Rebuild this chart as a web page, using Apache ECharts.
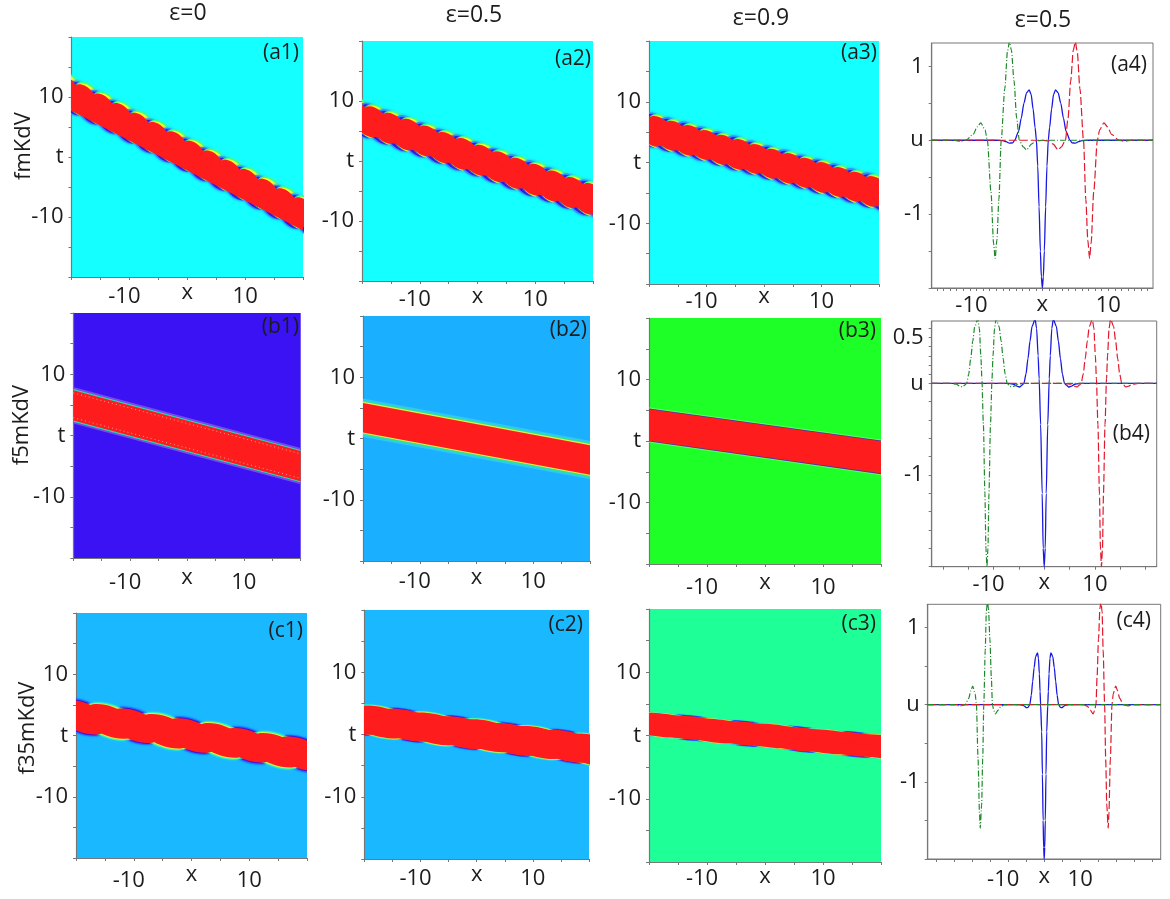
<!DOCTYPE html>
<html><head><meta charset="utf-8">
<style>html,body{margin:0;padding:0;background:#fff}#c{width:1170px;height:899px}</style>
<script src="https://cdn.jsdelivr.net/npm/echarts@6/dist/echarts.min.js"></script>
</head><body><div id="c"></div>
<script>
// ---------- data ----------
const columnTitles = ['ε=0','ε=0.5','ε=0.9','ε=0.5'];
const rowTitles = ['fmKdV','f5mKdV','f35mKdV'];
const a1LobeX = [-24,-20.85,-17.7,-14.55,-11.4,-8.25,-5.1,-1.95,1.2,4.35,7.5,10.65,13.8,16.95,20.1,23.25];
const a1LobeT = [12,10.4,8.85,7.3,5.7,4.1,2.55,1,-0.6,-2.2,-3.75,-5.3,-6.9,-8.5,-10,-11.6];
const a2LobeX = [-24,-20.85,-17.7,-14.55,-11.4,-8.25,-5.1,-1.95,1.2,4.35,7.5,10.65,13.8,16.95,20.1,23.25];
const a2LobeT = [8.2,7.1,6,4.9,3.9,2.8,1.7,0.7,-0.4,-1.5,-2.6,-3.6,-4.7,-5.8,-6.8,-7.9];
const a3LobeX = [-24,-21.1,-18.2,-15.3,-12.4,-9.5,-6.6,-3.7,-0.8,2.1,5,7.9,10.8,13.7,16.6,19.5,22.4];
const a3LobeT = [6.3,5.5,4.8,4,3.3,2.5,1.7,1,0.2,-0.6,-1.3,-2.1,-2.8,-3.6,-4.4,-5.1,-5.9];
const c1BlueX = [-19,-9.8,0,9.8,19];
const c1BlueT = [3,1.6,0,-1.6,-3];
const c1GreenX = [-24,-14.1,-4.6,5.2,14.7,24];
const c1GreenT = [3.8,2.3,0.7,-0.8,-2.4,-3.8];
const c2BlueX = [-21.9,-12.4,-2.6,6.6,16.2,25.7];
const c2BlueT = [2.6,1.5,0.3,-0.8,-1.9,-3.1];
const c2GreenX = [-17,-7.5,2,11.2,20.7];
const c2GreenT = [2,0.9,-0.2,-1.3,-2.5];
const c3BlueX = [-22.5,-12.9,-3.3,6.3,15.5];
const c3BlueT = [2,1.2,0.3,-0.6,-1.4];
const c3GreenX = [-17.6,-8.1,1.5,11,20.5];
const c3GreenT = [1.6,0.7,-0.1,-1,-1.8];
// bands: x at left, top t, bottom t, x at right, top t, bottom t
const a1Core = [-20,12.1,7.7,20,-7.8,-12.2];
const a2Core = [-20,8.8,4.8,20,-4.7,-8.7];
const a3Core = [-20,7.1,3.3,20,-3.4,-7.2];
const b1Band = [-20,7.4,2.45,20,-2.55,-7.45];
const b2Band = [-20,5.8,1,20,-1.1,-5.9];
const b3Band = [-20,5.15,0.05,20,-0.05,-5.25];
const c1Core = [-20,5.2,1.2,20,-1.2,-5.2];
const c2Core = [-20,4.4,0.4,20,-0.4,-4.4];
const c3Core = [-20,3.2,0.2,20,-0.25,-3.25];

const a4BlueX = [-16.8,-7,-6,-5.5,-5,-4.5,-4.2,-3.6,-3.2,-2.8,-2.4,-2,-1.7,-1.4,-1.1,-0.9,-0.7,-0.5,-0.3,-0.15,0,0.15,0.3,0.5,0.7,0.9,1.1,1.4,1.7,2,2.4,2.8,3.2,3.6,4.2,4.5,5,5.5,6,7,16.8];
const a4BlueU = [0,0,-0.005,-0.02,-0.04,-0.035,0,0.12,0.3,0.5,0.64,0.68,0.62,0.42,0.17,0,-0.35,-0.9,-1.5,-1.85,-2,-1.85,-1.5,-0.9,-0.35,0,0.17,0.42,0.62,0.68,0.64,0.5,0.3,0.12,0,-0.035,-0.04,-0.02,-0.005,0,0];
const a4RedX = [-16.8,0,1,1.6,2.4,2.9,3.5,3.9,4.3,4.7,5,5.3,5.7,6.25,6.6,6.9,7.17,7.4,7.8,8.35,8.7,9.35,9.9,10.5,11.6,12.5,13.5,16.8];
const a4RedU = [0,0,-0.01,-0.05,-0.13,-0.09,0,0.3,0.8,1.22,1.33,1.2,0.7,0,-0.8,-1.35,-1.6,-1.4,-0.7,0,0.14,0.235,0.18,0.08,0,-0.015,0,0];
const a4GreenX = [-16.8,-13.5,-12.5,-11.6,-10.5,-9.9,-9.35,-8.7,-8.35,-7.8,-7.4,-7.17,-6.9,-6.6,-6.25,-5.7,-5.3,-5,-4.7,-4.3,-3.9,-3.5,-2.9,-2.4,-1.6,-1,0,16.8];
const a4GreenU = [0,0,-0.015,0,0.08,0.18,0.235,0.14,0,-0.7,-1.4,-1.6,-1.35,-0.8,0,0.7,1.2,1.33,1.22,0.8,0.3,0,-0.09,-0.13,-0.05,-0.01,0,0];

const b4BlueX = [-22.2,-7,-6,-5.4,-4.8,-4.4,-4,-3.6,-3.2,-2.8,-2.4,-1.8,-1.5,-1.2,-1,-0.7,-0.4,-0.2,0,0.2,0.4,0.7,1,1.2,1.5,1.8,2.4,2.8,3.2,3.6,4,4.4,4.8,5.4,6,7,22.2];
const b4BlueU = [0,0,-0.01,-0.03,-0.04,-0.02,0,0.1,0.27,0.46,0.62,0.7,0.6,0.3,0.05,-0.45,-1.2,-1.8,-2,-1.8,-1.2,-0.45,0.05,0.3,0.6,0.7,0.62,0.46,0.27,0.1,0,-0.02,-0.04,-0.03,-0.01,0,0];
const b4RedX = [-22.2,4,5.3,5.9,6.5,6.9,7.3,7.7,8.1,8.5,8.9,9.5,9.8,10.1,10.3,10.6,10.9,11.1,11.3,11.5,11.7,12,12.3,12.5,12.8,13.1,13.7,14.1,14.5,14.9,15.3,15.7,16.1,16.7,17.3,18.6,22.2];
const b4RedU = [0,0,-0.01,-0.03,-0.04,-0.02,0,0.1,0.27,0.46,0.62,0.7,0.6,0.3,0.05,-0.45,-1.2,-1.8,-2,-1.8,-1.2,-0.45,0.05,0.3,0.6,0.7,0.62,0.46,0.27,0.1,0,-0.02,-0.04,-0.03,-0.01,0,0];
const b4GreenX = [-22.2,-18.6,-17.3,-16.7,-16.1,-15.7,-15.3,-14.9,-14.5,-14.1,-13.7,-13.1,-12.8,-12.5,-12.3,-12,-11.7,-11.5,-11.3,-11.1,-10.9,-10.6,-10.3,-10.1,-9.8,-9.5,-8.9,-8.5,-8.1,-7.7,-7.3,-6.9,-6.5,-5.9,-5.3,-4,22.2];
const b4GreenU = [0,0,-0.01,-0.03,-0.04,-0.02,0,0.1,0.27,0.46,0.62,0.7,0.6,0.3,0.05,-0.45,-1.2,-1.8,-2,-1.8,-1.2,-0.45,0.05,0.3,0.6,0.7,0.62,0.46,0.27,0.1,0,-0.02,-0.04,-0.03,-0.01,0,0];

const c4BlueX = [-32.4,-7,-6,-5.5,-4.9,-4.5,-4,-3.6,-3.2,-2.8,-2.4,-1.85,-1.6,-1.35,-1.15,-1,-0.7,-0.5,-0.3,-0.15,0,0.15,0.3,0.5,0.7,1,1.15,1.35,1.6,1.85,2.4,2.8,3.2,3.6,4,4.5,4.9,5.5,6,7,32.4];
const c4BlueU = [0,0,-0.005,-0.02,-0.04,-0.035,0,0.12,0.3,0.48,0.62,0.67,0.6,0.4,0.17,0,-0.35,-0.9,-1.5,-1.85,-2,-1.85,-1.5,-0.9,-0.35,0,0.17,0.4,0.6,0.67,0.62,0.48,0.3,0.12,0,-0.035,-0.04,-0.02,-0.005,0,0];
const c4RedX = [-32.4,11,12,12.8,13.6,14,14.4,14.7,15.1,15.5,15.8,16.1,16.4,16.8,17.1,17.4,17.8,18,18.4,18.85,19.2,19.9,20.4,21,22,23.3,25,32.4];
const c4RedU = [0,0,-0.02,-0.07,-0.12,-0.08,0,0.35,0.85,1.25,1.33,1.2,0.7,0,-0.7,-1.3,-1.6,-1.4,-0.7,0,0.14,0.24,0.18,0.08,0,-0.015,0,0];
const c4GreenX = [-32.4,-25,-23.3,-22,-21,-20.4,-19.9,-19.2,-18.85,-18.4,-18,-17.8,-17.4,-17.1,-16.8,-16.4,-16.1,-15.8,-15.5,-15.1,-14.7,-14.4,-14,-13.6,-12.8,-12,-11,32.4];
const c4GreenU = [0,0,-0.015,0,0.08,0.18,0.24,0.14,0,-0.7,-1.4,-1.6,-1.3,-0.7,0,0.7,1.2,1.33,1.25,0.85,0.35,0,-0.08,-0.12,-0.07,-0.02,0,0];

const heatTicks = [-20,-15,-10,-5,0,5,10,15,20];
const heatLabels = [-10,0,10];
const a4XTicks = [-16,-15,-14,-13,-12,-11,-10,-9,-8,-7,-6,-5,-4,-3,-2,-1,0,1,2,3,4,5,6,7,8,9,10,11,12,13,14,15,16];
const b4XTicks = [-20,-15,-10,-5,0,5,10,15,20];
const c4XTicks = [-30,-25,-20,-15,-10,-5,0,5,10,15,20,25,30];
const a4YTicks = [-2,-1.5,-1,-0.5,0,0.5,1];
const b4YTicks = [-2,-1.8,-1.6,-1.4,-1.2,-1,-0.8,-0.6,-0.4,-0.2,0,0.1,0.2,0.3,0.4,0.5,0.6];
const c4YTicks = [-2,-1.5,-1,-0.5,0,0.5,1];

// ---------- layout and style ----------
const FONT = '"Open Sans","Noto Sans",sans-serif';
const INK = '#1c1c1c';
const AXIS = '#777';
const zip = (a,b)=>a.map((v,i)=>[v,b[i]]);
const RED = '#ff1c1c';
const LABEL = 22;

function ellipseSeries(g, pts, shape, layers, offX, offT){
  return {type:'custom', xAxisIndex:g, yAxisIndex:g, clip:true, silent:true, data:pts,
    renderItem(params, api){
      const p = api.coord([api.value(0)+offX, api.value(1)+offT]);
      return {type:'group', children: layers.map(l=>({
        type:'ellipse', x:p[0]+(l.dx||0), y:p[1]+(l.dy||0), rotation:-shape.theta*Math.PI/180,
        shape:{cx:0,cy:0,rx:shape.a+(l.da||0),ry:shape.b+(l.db||0)},
        style:{fill:l.fill, shadowBlur:l.blur||0, shadowColor:l.blur?l.fill:'transparent'}
      }))};
    }};
}
function bandSeries(g, band, grow, fill){
  return {type:'custom', xAxisIndex:g, yAxisIndex:g, clip:true, silent:true, data:[band],
    renderItem(params, api){
      const v=i=>api.value(i);
      return {type:'polygon', shape:{points:[
        api.coord([v(0),v(1)+grow]), api.coord([v(3),v(4)+grow]),
        api.coord([v(3),v(5)-grow]), api.coord([v(0),v(2)-grow])]}, style:{fill}};
    }};
}
function dottedEdge(g, band, inset, color){
  return [
    {type:'line',xAxisIndex:g,yAxisIndex:g,showSymbol:false,silent:true,z:3,data:[[band[0],band[1]-inset],[band[3],band[4]-inset]],lineStyle:{color,width:1,type:[1,3]}},
    {type:'line',xAxisIndex:g,yAxisIndex:g,showSymbol:false,silent:true,z:3,data:[[band[0],band[2]+inset],[band[3],band[5]+inset]],lineStyle:{color,width:1,type:[1,3]}}
  ];
}

const rowALayers = [
  {dx:-4,dy:-1,da:2.5,db:2.6,fill:'#2a8cff',blur:3},
  {dx:-3,dy:-0.5,da:1.5,db:1.5,fill:'#3a10e0'},
  {dx:3,dy:0,da:2,db:2.2,fill:'#40ff90',blur:2},
  {dx:2.5,dy:0.5,da:1,db:1.2,fill:'#f4ff20'}
];
const redLayer = [{fill:RED}];
const halo = (k,blue)=>[
  {da:1.5*k,db:2.2*k,fill:blue?'#1a70ff':'#30f0c0',blur:2*k},
  {da:0.8*k,db:1.1*k,fill:blue?'#4a10d8':'#d8f040'}
];

const panels = [
 {id:'a1',rect:[71.5,37,303,277],bg:'#14ffff',lab:[299,53],m:9,xg:5},
 {id:'a2',rect:[362,41,593,281],bg:'#14ffff',lab:[591,59],m:8,xg:5},
 {id:'a3',rect:[649,41,879,284],bg:'#14ffff',lab:[877,53],m:7,xg:2},
 {id:'a4',rect:[931.7,43,1153,288],lab:[1147,65],m:7,xg:6,curve:true,xr:16.8,yr:[-2,1.316],
   xt:a4XTicks,yt:a4YTicks,yl:[-1,0,1],b:zip(a4BlueX,a4BlueU),r:zip(a4RedX,a4RedU),g:zip(a4GreenX,a4GreenU)},
 {id:'b1',rect:[73.3,313,300.7,558],bg:'#3a12f4',lab:[299,327],m:14,xg:9},
 {id:'b2',rect:[363,316,590,561],bg:'#1ab0ff',lab:[587,330],m:10,xg:6},
 {id:'b3',rect:[649,318,881,564],bg:'#1eff28',lab:[876,331],m:13,xg:8},
 {id:'b4',rect:[931.7,321,1156.7,566.7],lab:[1150,434],m:7,xg:5,curve:true,xr:22.2,yr:[-2,0.68],
   xt:b4XTicks,yt:b4YTicks,yl:[-1,0,0.5],b:zip(b4BlueX,b4BlueU),r:zip(b4RedX,b4RedU),g:zip(b4GreenX,b4GreenU)},
 {id:'c1',rect:[76,613,307,858],bg:'#1ab8ff',lab:[303,631],m:12,xg:6},
 {id:'c2',rect:[364.4,610,589,859],bg:'#1ab8ff',lab:[583,625],m:9,xg:5},
 {id:'c3',rect:[649,609,881,862],bg:'#1eff98',lab:[876,624],m:6,xg:4},
 {id:'c4',rect:[927.7,604.3,1160.7,859],lab:[1151,621],m:10,xg:7,curve:true,xr:32.4,yr:[-2,1.3],
   xt:c4XTicks,yt:c4YTicks,yl:[-1,0,1],b:zip(c4BlueX,c4BlueU),r:zip(c4RedX,c4RedU),g:zip(c4GreenX,c4GreenU)}
];

const grids=[], xAxes=[], yAxes=[], series=[], texts=[];
panels.forEach((p,i)=>{
  const [l,t,r,b]=p.rect;
  grids.push({left:l,top:t,width:r-l,height:b-t,show:true,containLabel:false,
    backgroundColor:p.curve?'transparent':p.bg,borderWidth:p.curve?1:0,borderColor:AXIS});
  const xMax=p.curve?p.xr:20;
  xAxes.push({type:'value',gridIndex:i,min:-xMax,max:xMax,name:'x',nameLocation:'middle',nameGap:p.xg,nameMoveOverlap:false,
    nameTextStyle:{fontSize:LABEL,color:INK,fontFamily:FONT,verticalAlign:'top'},
    splitLine:{show:false},axisLine:{onZero:false,lineStyle:{color:AXIS,width:1.2}},
    axisTick:{show:true,length:3,lineStyle:{color:AXIS},customValues:p.curve?p.xt:heatTicks},
    axisLabel:{margin:p.m,fontSize:LABEL,color:INK,fontFamily:FONT,
      customValues:[-10,10],
      formatter:v=>v<0?'{n|'+v+'}':''+v,
      rich:{n:{fontSize:LABEL,color:INK,fontFamily:FONT,padding:[0,10,0,0]}}}});
  const yL=p.curve?p.yr:[-20,20];
  yAxes.push({type:'value',gridIndex:i,min:yL[0],max:yL[1],
    splitLine:{show:false},axisLine:{onZero:false,lineStyle:{color:AXIS,width:1.2}},
    axisTick:{show:true,length:3,lineStyle:{color:AXIS},customValues:p.curve?p.yt:heatTicks},
    axisLabel:{margin:8,fontSize:LABEL,color:INK,fontFamily:FONT,padding:[4,0,0,0],
      customValues:p.curve?p.yl:heatLabels,
      formatter:v=>v===0?(p.curve?'u':'t'):''+v}});
  if(p.curve){
    const mk=(d,color,type,w)=>({type:'line',xAxisIndex:i,yAxisIndex:i,data:d,showSymbol:false,silent:true,clip:true,
      smooth:0.25,smoothMonotone:'x',lineStyle:{color,width:w,type}});
    series.push(mk(p.b,'#1818e0','solid',1.3));
    series.push(mk(p.r,'#e0182c',[8,3],1.2));
    series.push(mk(p.g,'#1f8a2c',[6,2,1,2],1.2));
  }
  texts.push({type:'text',z:100,style:{x:p.lab[0],y:p.lab[1],text:'('+p.id+')',font:'21px '+FONT,fill:INK,textAlign:'right',textVerticalAlign:'middle'}});
});

// row a: two staggered rows of lobes along each band edge
[[0,a1LobeX,a1LobeT,a1Core,{a:15,b:9,theta:50},1.15,1.7],
 [1,a2LobeX,a2LobeT,a2Core,{a:15,b:9,theta:43},1.1,1.7],
 [2,a3LobeX,a3LobeT,a3Core,{a:14,b:8.5,theta:39},1.05,1.5]].forEach(([g,X,T,core,shape,off,sh])=>{
  const pts=zip(X,T);
  series.push(ellipseSeries(g,pts,shape,rowALayers,0,off));
  series.push(ellipseSeries(g,pts,shape,rowALayers,sh,-off));
  series.push(bandSeries(g,core,0,RED));
  series.push(ellipseSeries(g,pts,shape,redLayer,0,off));
  series.push(ellipseSeries(g,pts,shape,redLayer,sh,-off));
});
// row b
series.push(bandSeries(4,b1Band,0.5,'#7a48ea'));
series.push(bandSeries(4,b1Band,0.2,'#20e0b0'));
series.push(bandSeries(4,b1Band,0,RED));
series.push(...dottedEdge(4,b1Band,0.45,'#f6a0a0'));
series.push(bandSeries(5,b2Band,0.75,'#30c8f4'));
series.push(bandSeries(5,b2Band,0.45,'#30e0a0'));
series.push(bandSeries(5,b2Band,0.2,'#e4f040'));
series.push(bandSeries(5,b2Band,0,RED));
series.push(bandSeries(6,b3Band,0.3,'#60ff60'));
series.push(bandSeries(6,b3Band,0.15,'#5030a8'));
series.push(bandSeries(6,b3Band,0,RED));
// row c
[[8,c1BlueX,c1BlueT,c1GreenX,c1GreenT,c1Core,{a:26,b:11,theta:20},0.6,1],
 [9,c2BlueX,c2BlueT,c2GreenX,c2GreenT,c2Core,{a:30,b:9.5,theta:12},0.85,0.6],
 [10,c3BlueX,c3BlueT,c3GreenX,c3GreenT,c3Core,{a:32,b:6,theta:6},0.9,0.45]].forEach(([g,bx,bt,gx,gt,core,shape,off,k])=>{
  [off,-off].forEach(o=>{
    series.push(ellipseSeries(g,zip(bx,bt),shape,halo(k,true),0,o));
    series.push(ellipseSeries(g,zip(gx,gt),shape,halo(k,false),0,o));
  });
  series.push(bandSeries(g,core,0,RED));
  [off,-off].forEach(o=>{
    series.push(ellipseSeries(g,zip(bx,bt),shape,redLayer,0,o));
    series.push(ellipseSeries(g,zip(gx,gt),shape,redLayer,0,o));
  });
});

[[188,13],[474,15],[761,18],[1043,20]].forEach((pos,i)=>texts.push({type:'text',z:100,
  style:{x:pos[0],y:pos[1],text:columnTitles[i],font:'23px '+FONT,fill:INK,textAlign:'center',textVerticalAlign:'middle'}}));
[[24,146],[22,425],[28,728]].forEach((pos,i)=>texts.push({type:'text',z:100,x:pos[0],y:pos[1],rotation:Math.PI/2,
  style:{x:0,y:0,text:rowTitles[i],font:'22px '+FONT,fill:INK,textAlign:'center',textVerticalAlign:'middle'}}));

const chart = echarts.init(document.getElementById('c'),null,{renderer:'canvas'});
chart.setOption({animation:false,backgroundColor:'#fff',grid:grids,xAxis:xAxes,yAxis:yAxes,series,graphic:{elements:texts}});
</script></body></html>
